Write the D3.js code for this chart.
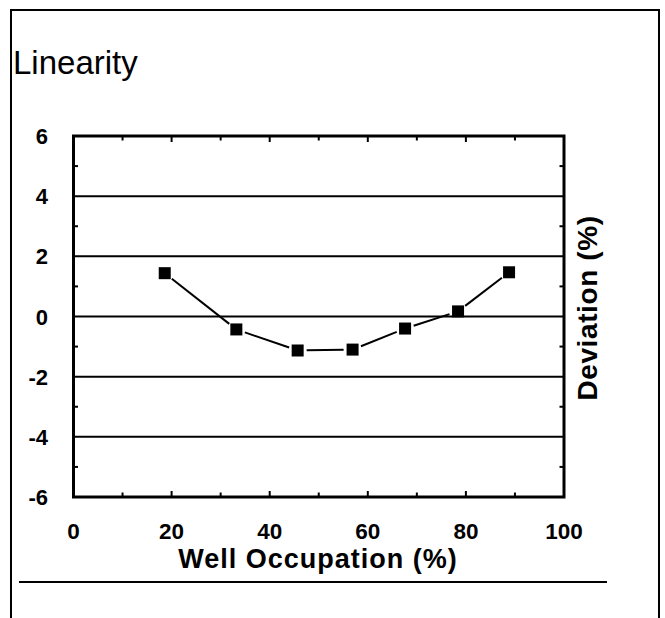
<!DOCTYPE html>
<html>
<head>
<meta charset="utf-8">
<script src="https://cdn.jsdelivr.net/npm/d3@7"></script>
<style>
  body { margin: 0; background: #fff; }
  svg { display: block; }
</style>
</head>
<body>
<svg id="chart" width="665" height="618"></svg>
<script>
// data
const occupation = [18.6, 33.2, 45.7, 56.9, 67.6, 78.4, 88.8];
const deviation = [1.44, -0.43, -1.13, -1.10, -0.40, 0.17, 1.47];
const xTicks = [0, 20, 40, 60, 80, 100];
const yTicks = [-6, -4, -2, 0, 2, 4, 6];
const xMinor = d3.range(10, 100, 10);
const yMinor = [-5, -3, -1, 1, 3, 5];

const svg = d3.select("#chart");
const font = "'Liberation Sans', Arial, sans-serif";

// outer frame, open at the bottom
svg.append("path")
  .attr("d", "M11,630 V10 H659 V630")
  .attr("fill", "none")
  .attr("stroke", "#000")
  .attr("stroke-width", 2);

svg.append("text")
  .text("Linearity")
  .attr("x", 13)
  .attr("y", 74)
  .attr("font-family", font)
  .attr("font-size", 33)
  .attr("fill", "#000");

const pLeft = 73.5, pRight = 564, pTop = 136, pBottom = 497;
const x = d3.scaleLinear().domain([0, 100]).range([pLeft, pRight]);
const y = d3.scaleLinear().domain([-6, 6]).range([pBottom, pTop]);

// gridlines
svg.append("g")
  .selectAll("line")
  .data(yTicks.slice(1, -1))
  .join("line")
  .attr("x1", pLeft).attr("x2", pRight)
  .attr("y1", d => y(d)).attr("y2", d => y(d))
  .attr("stroke", "#000").attr("stroke-width", 2);

// inward ticks, all four sides
const ticks = svg.append("g").attr("stroke", "#000").attr("stroke-width", 2);
xMinor.forEach(v => {
  const len = v % 20 === 0 ? 6 : 4.5;
  ticks.append("line").attr("x1", x(v)).attr("x2", x(v)).attr("y1", pBottom).attr("y2", pBottom - len);
  ticks.append("line").attr("x1", x(v)).attr("x2", x(v)).attr("y1", pTop).attr("y2", pTop + len);
});
yMinor.forEach(v => {
  ticks.append("line").attr("x1", pLeft).attr("x2", pLeft + 4.5).attr("y1", y(v)).attr("y2", y(v));
  ticks.append("line").attr("x1", pRight).attr("x2", pRight - 4.5).attr("y1", y(v)).attr("y2", y(v));
});

// plot frame
svg.append("rect")
  .attr("x", pLeft).attr("y", pTop)
  .attr("width", pRight - pLeft).attr("height", pBottom - pTop)
  .attr("fill", "none")
  .attr("stroke", "#000").attr("stroke-width", 3);

// tick labels
svg.append("g")
  .selectAll("text")
  .data(yTicks)
  .join("text")
  .text(d => d)
  .attr("x", 48)
  .attr("y", d => y(d) + 8)
  .attr("text-anchor", "end")
  .attr("font-family", font)
  .attr("font-weight", "bold")
  .attr("font-size", 22);

svg.append("g")
  .selectAll("text")
  .data(xTicks)
  .join("text")
  .text(d => d)
  .attr("x", d => x(d))
  .attr("y", 539)
  .attr("text-anchor", "middle")
  .attr("font-family", font)
  .attr("font-weight", "bold")
  .attr("font-size", 22.5);

// axis titles
svg.append("text")
  .text("Well Occupation (%)")
  .attr("x", 318)
  .attr("y", 568)
  .attr("text-anchor", "middle")
  .attr("font-family", font)
  .attr("font-weight", "bold")
  .attr("font-size", 27)
  .style("letter-spacing", "1px");

svg.append("text")
  .text("Deviation (%)")
  .attr("transform", "translate(597,308) rotate(-90)")
  .attr("text-anchor", "middle")
  .attr("font-family", font)
  .attr("font-weight", "bold")
  .attr("font-size", 28)
  .style("letter-spacing", "0.6px");

// rule under the chart
svg.append("line")
  .attr("x1", 19).attr("x2", 607)
  .attr("y1", 582).attr("y2", 582)
  .attr("stroke", "#000").attr("stroke-width", 2);

// series: segments stop short of the markers
const pts = occupation.map((v, i) => [x(v), y(deviation[i])]);
const gap = 9;
const segs = d3.pairs(pts).map(([a, b]) => {
  const dx = b[0] - a[0], dy = b[1] - a[1];
  const L = Math.hypot(dx, dy);
  return [a[0] + dx / L * gap, a[1] + dy / L * gap, b[0] - dx / L * gap, b[1] - dy / L * gap];
});
svg.append("g")
  .selectAll("line")
  .data(segs)
  .join("line")
  .attr("x1", d => d[0]).attr("y1", d => d[1])
  .attr("x2", d => d[2]).attr("y2", d => d[3])
  .attr("stroke", "#000").attr("stroke-width", 2);

const m = 12;
svg.append("g")
  .selectAll("rect")
  .data(pts)
  .join("rect")
  .attr("x", d => d[0] - m / 2)
  .attr("y", d => d[1] - m / 2)
  .attr("width", m).attr("height", m)
  .attr("fill", "#000");
</script>
</body>
</html>
